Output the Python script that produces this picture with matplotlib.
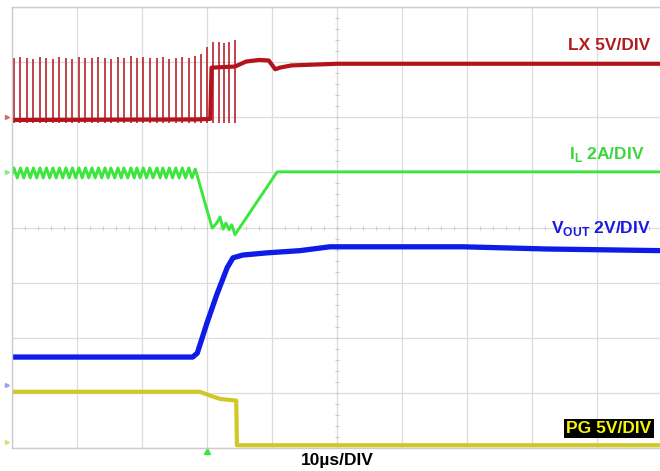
import matplotlib

matplotlib.use("Agg")
import matplotlib.pyplot as plt

# Scope screen in divisions: 10 across, 8 up (bottom-left = 0, 0).
# LX switch node: narrow spikes from the low level, then settled high level
LX_LOW = 5.95
LX_SPIKE_T = [0.03, 0.13, 0.23, 0.33, 0.43, 0.53, 0.63, 0.73, 0.83, 0.93,
              1.03, 1.13, 1.23, 1.33, 1.43, 1.52, 1.63, 1.72, 1.83, 1.92,
              2.02, 2.12, 2.23, 2.32, 2.42, 2.52, 2.62, 2.72, 2.82, 2.91,
              3.00, 3.09, 3.18, 3.26, 3.34, 3.43]
LX_SPIKE_TOP = [7.08, 7.10, 7.08, 7.06, 7.10, 7.08, 7.05, 7.09, 7.08, 7.06,
                7.10, 7.08, 7.07, 7.10, 7.08, 7.06, 7.09, 7.08, 7.12, 7.08,
                7.10, 7.07, 7.08, 7.09, 7.06, 7.08, 7.10, 7.08, 7.12, 7.14,
                7.28, 7.37, 7.37, 7.35, 7.37, 7.40]
LX_T = [0.0, 2.85, 3.05, 3.07, 3.43, 3.60, 3.80, 3.95, 4.05, 4.12, 4.30, 5.0, 10.0]
LX_V = [5.95, 5.96, 5.97, 6.90, 6.92, 7.01, 7.04, 7.03, 6.87, 6.90, 6.94, 6.97, 6.97]

# Inductor current: ripple, dip during the transition, then flat
IL_T = [0.0, 0.03, 0.08, 0.13, 0.18, 0.23, 0.28, 0.33, 0.38, 0.43, 0.48,
        0.53, 0.58, 0.63, 0.68, 0.73, 0.78, 0.83, 0.88, 0.93, 0.98,
        1.03, 1.08, 1.13, 1.18, 1.23, 1.28, 1.33, 1.38, 1.43, 1.48,
        1.52, 1.58, 1.63, 1.68, 1.72, 1.78, 1.83, 1.88, 1.92, 1.97,
        2.02, 2.07, 2.12, 2.17, 2.23, 2.28, 2.32, 2.37, 2.42, 2.47,
        2.52, 2.57, 2.62, 2.67, 2.72, 2.77, 2.82,
        3.08, 3.15, 3.20, 3.25, 3.29, 3.34, 3.38, 3.43, 4.08, 10.0]
IL_V = [4.96, 5.08, 4.90, 5.08, 4.90, 5.08, 4.90, 5.08, 4.90, 5.08, 4.90,
        5.08, 4.90, 5.08, 4.90, 5.08, 4.90, 5.08, 4.90, 5.08, 4.90,
        5.08, 4.90, 5.08, 4.90, 5.08, 4.90, 5.08, 4.90, 5.08, 4.90,
        5.08, 4.90, 5.08, 4.90, 5.08, 4.90, 5.08, 4.90, 5.08, 4.90,
        5.08, 4.90, 5.08, 4.90, 5.08, 4.90, 5.08, 4.90, 5.08, 4.90,
        5.08, 4.90, 5.08, 4.90, 5.08, 4.90, 5.06,
        3.99, 4.08, 4.19, 3.97, 4.08, 3.96, 4.05, 3.87, 5.01, 5.01]

# Output voltage
VOUT_T = [0.0, 2.78, 2.85, 3.00, 3.15, 3.31, 3.40, 3.55, 3.92, 4.43, 4.89, 6.94, 8.23, 10.0]
VOUT_V = [1.65, 1.65, 1.72, 2.27, 2.78, 3.27, 3.45, 3.50, 3.54, 3.58, 3.65, 3.65, 3.61, 3.58]

# Power-good
PG_T = [0.0, 2.89, 3.05, 3.20, 3.45, 3.46, 10.0]
PG_V = [1.02, 1.02, 0.95, 0.89, 0.86, 0.05, 0.05]

RED = "#B3141C"
GREEN = "#3CE63C"
BLUE = "#0F1BE6"
YELLOW = "#CFC828"

plt.rcParams.update({
    "font.family": "Liberation Sans",
    "mathtext.fontset": "custom",
    "mathtext.rm": "Liberation Sans",
    "mathtext.bf": "Liberation Sans:bold",
})

fig = plt.figure(figsize=(6.6, 4.71), dpi=100)
ax = fig.add_axes([12 / 660, 23 / 471, 650 / 660, 441 / 471])
ax.set_xlim(0, 10)
ax.set_ylim(0, 8)
ax.set_xticks(range(11))
ax.set_yticks(range(9))
ax.tick_params(length=0, labelbottom=False, labelleft=False)
ax.grid(True, color="#DCDCDC", linewidth=0.9)
for s in ax.spines.values():
    s.set_color("#CCCCCC")
    s.set_linewidth(1.0)

# center-line minor ticks
ticks = [i * 0.2 for i in range(51)]
ax.plot(ticks, [4] * len(ticks), ls="none", marker="|", ms=3, color="#CDCDCD", mew=0.8)
vt = [i * 0.2 for i in range(41)]
ax.plot([5] * len(vt), vt, ls="none", marker="_", ms=3, color="#CDCDCD", mew=0.8)

# traces
ax.vlines(LX_SPIKE_T, LX_LOW - 0.05, LX_SPIKE_TOP, color="#B8222C", linewidth=1.2)
ax.plot(LX_T, LX_V, color=RED, linewidth=3.0, solid_joinstyle="round")
ax.plot(IL_T, IL_V, color=GREEN, linewidth=2.1)
ax.plot(VOUT_T, VOUT_V, color=BLUE, linewidth=3.8)
ax.plot(PG_T, PG_V, color=YELLOW, linewidth=3.0)

# channel ground markers and trigger marker
for yv, c in [(6.0, RED), (5.01, GREEN), (1.14, "#6070E0"), (0.11, YELLOW)]:
    ax.plot([-0.08], [yv], marker=">", ms=3, color=c, alpha=0.5, clip_on=False)
ax.plot([3.0], [-0.05], marker="^", ms=4, color=GREEN, clip_on=False)

# labels
kw = dict(ha="right", va="baseline", fontsize=12.5, fontweight="bold")
ax.text(9.82, 7.22, "LX 5V/DIV", color="#B01C20", **kw)
ax.text(9.74, 5.24, r"$\mathbf{I}_{\mathbf{L}}$ 2A/DIV", color="#3BD63B", **kw)
ax.text(9.82, 3.90, r"$\mathbf{V}_{\mathbf{OUT}}$ 2V/DIV", color="#1A1AE0", **kw)
ax.text(9.84, 0.27, "PG 5V/DIV", color="#F5F50A",
        bbox=dict(boxstyle="square,pad=0.12", fc="black", ec="none"), **kw)
ax.text(5.0, -0.31, "10µs/DIV", ha="center", va="baseline", fontsize=12.5,
        fontweight="bold", color="black", clip_on=False)

fig.savefig("out.png", dpi=100)
